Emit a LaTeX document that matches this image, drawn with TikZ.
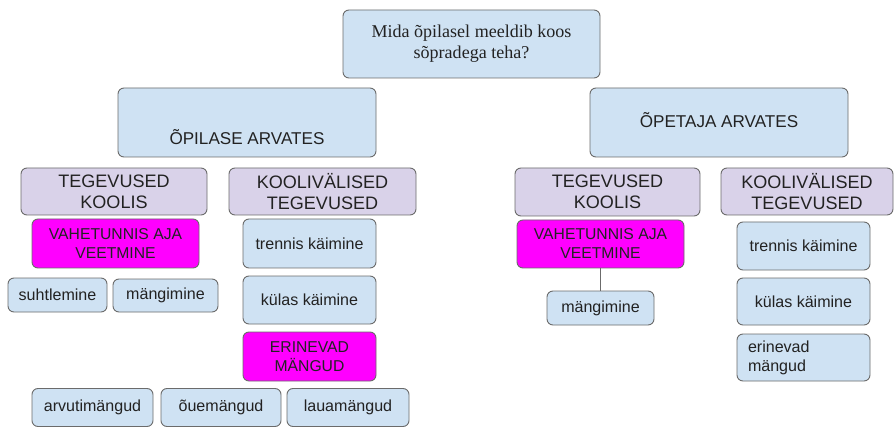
\documentclass[tikz,border=0pt]{standalone}
\usepackage{fontspec}
\setmainfont{Liberation Sans}
\newfontfamily\qfont{Liberation Serif}
\definecolor{boxblue}{HTML}{CFE2F3}
\definecolor{boxlilac}{HTML}{D9D2E9}
\definecolor{boxpink}{HTML}{FF00FF}
\definecolor{boxline}{HTML}{6B6B6B}
\definecolor{boxtext}{HTML}{222222}

\begin{document}
\begin{tikzpicture}[x=0.03cm, y=-0.03cm,
    box/.style = {draw=boxline, line width=0.8pt, rounded corners=0.18cm, inner sep=0pt, align=center, text=boxtext},
    sz/.style 2 args = {minimum width=#1*0.03cm, minimum height=#2*0.03cm},
    blue/.style = {box, fill=boxblue, font=\fontsize{13.7}{16.2}\selectfont},
    lilac/.style = {box, fill=boxlilac, font=\fontsize{15.4}{17.9}\selectfont},
    pink/.style = {box, fill=boxpink, font=\fontsize{13.4}{16.2}\selectfont},
    head/.style = {box, fill=boxblue, font=\fontsize{14.6}{17}\selectfont}]

    \useasboundingbox (0,0) rectangle (896,428);

    % question
    \node[box, fill=boxblue, sz={257}{68}, font=\qfont\fontsize{15.4}{17.9}\selectfont] (q) at (471.5,44) {Mida õpilasel meeldib koos\\sõpradega teha?};

    % two views
    \node[head, sz={258}{69}, text height=57*0.03cm, text depth=12*0.03cm] (opil) at (247,122.5) {ÕPILASE ARVATES};
    \node[head, sz={258}{69}, text height=40*0.03cm, text depth=29*0.03cm] (opet) at (719,122.5) {ÕPETAJA ARVATES};

    % left side
    \node[lilac, sz={186}{47}] (tk1) at (114,191.5) {TEGEVUSED\\KOOLIS};
    \node[lilac, sz={187}{47}] (kv1) at (322.5,191.5) {KOOLIVÄLISED\\TEGEVUSED};
    \node[pink, sz={167}{49}] (vt1) at (115.5,243.5) {VAHETUNNIS AJA\\VEETMINE};
    \node[blue, sz={99}{34}] (su1) at (57.5,295) {suhtlemine};
    \node[blue, sz={105}{33}] (mg1) at (165.5,295.5) {mängimine};
    \node[blue, sz={133}{49}] (tr1) at (309.5,243.5) {trennis käimine};
    \node[blue, sz={133}{48}] (ku1) at (309.5,300) {külas käimine};
    \node[pink, sz={133}{49}] (er1) at (309.5,356.5) {ERINEVAD\\MÄNGUD};
    \node[blue, sz={121}{38}] (ar1) at (92.5,407.5) {arvutimängud};
    \node[blue, sz={120}{38}] (ou1) at (221,407.5) {õuemängud};
    \node[blue, sz={122}{38}] (la1) at (348,407.5) {lauamängud};

    % right side
    \node[lilac, sz={185}{48}] (tk2) at (607.5,192) {TEGEVUSED\\KOOLIS};
    \node[lilac, sz={172}{47}] (kv2) at (807,191.5) {KOOLIVÄLISED\\TEGEVUSED};
    \node[pink, sz={167}{48}] (vt2) at (600.5,244) {VAHETUNNIS AJA\\VEETMINE};
    \node[blue, sz={107}{34}] (mg2) at (600.5,308) {mängimine};
    \node[blue, sz={133}{48}] (tr2) at (803.5,246) {trennis käimine};
    \node[blue, sz={133}{47}] (ku2) at (803.5,301.5) {külas käimine};
    \node[blue, sz={133}{47}, align=left, text width=111*0.03cm, inner xsep=11*0.03cm] (er2) at (803.5,357.5) {erinevad\\mängud};

    \draw[boxline, line width=0.8pt] (vt2) -- (mg2);

\end{tikzpicture}
\end{document}
